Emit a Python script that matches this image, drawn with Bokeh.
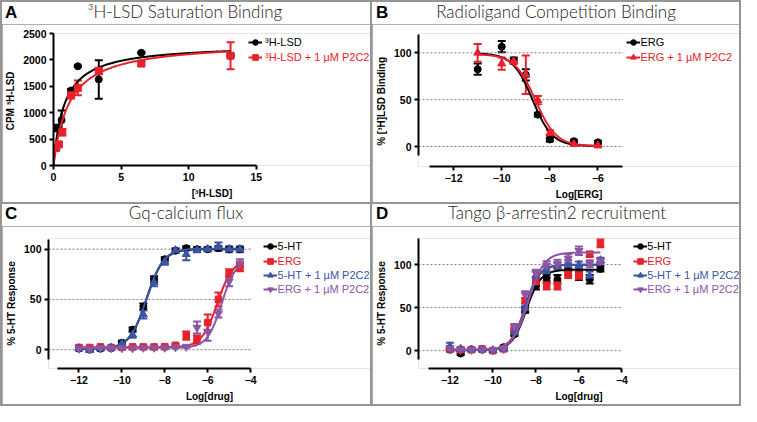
import numpy as np
from bokeh.plotting import figure
from bokeh.models import (ColumnDataSource, Whisker, TeeHead, Legend, LegendItem,
                          FixedTicker, Range1d, Div)
from bokeh.layouts import row, column
from bokeh.embed import file_html
from bokeh.resources import INLINE

# ---------------- data ----------------
# Panel A : 3H-LSD saturation binding (x = [3H-LSD], y = CPM)
A_black_x = [0.2, 0.6, 1.3, 1.8, 3.35, 6.5, 13.1]
A_black_y = [710, 860, 1420, 1880, 1630, 2135, 2080]
A_black_err = [60, 180, 30, 15, 365, 15, 20]
A_red_x = [0.2, 0.4, 0.65, 1.3, 1.8, 3.35, 6.5, 13.1]
A_red_y = [330, 400, 630, 1330, 1470, 1790, 1930, 2080]
A_red_err = [30, 30, 60, 60, 140, 60, 30, 255]
A_fit_black = [2300, 0.8]    # Bmax, Kd
A_fit_red = [2350, 1.15]
A_xticks = [0, 5, 10, 15]
A_yticks = [0, 500, 1000, 1500, 2000, 2500]

# Panel B : competition binding (log[ERG])
B_x = [-11, -10, -9.5, -9, -8.5, -8, -7, -6]
B_erg_y = [82.5, 106.5, 92, 76.5, 34, 7.5, 5.7, 4.5]
B_erg_err = [6, 6, 3, 6, 2, 2, 1.5, 1.5]
B_ergp_y = [100, 88.5, 91, 76.5, 49.5, 14.5, 2.5, 1]
B_ergp_err = [9.5, 6.5, 3, 20.5, 4.5, 3, 1, 1]
B_fit_erg = [0.5, 99.5, -8.72, -1.05]     # bottom, top, logIC50, hill
B_fit_ergp = [0.5, 98.5, -8.6, -1.0]
B_xticks = [-12, -10, -8, -6]
B_yticks = [0, 50, 100]

# Panel C : Gq-calcium flux (log[drug])
C_x = [-12, -11.5, -11, -10.5, -10, -9.5, -9, -8.5, -8, -7.5, -7, -6.5, -6, -5.5, -5, -4.5]
C_ht_y = [1, 0, 1, 1.5, 7, 20, 43, 70, 90, 98.5, 101, 100, 100, 101, 100, 100]
C_ht_err = [1.5, 1.5, 1.5, 1.5, 2, 2, 3, 3, 2, 2, 2, 2, 2, 2, 2, 2]
C_erg_y = [2.2, 2.2, 2.8, 2.2, 2.5, 2.8, 2.8, 2.8, 3, 4.4, 14, 10, 27, 50, 76, 82]
C_erg_err = [1, 1, 1, 1, 1, 1, 1, 1, 1, 1.5, 4, 4, 8, 7, 4, 4]
C_htp_y = [1.5, -0.5, 1.5, 2, 6, 15, 35, 67, 87.5, 99, 95, 99, 100, 102.5, 100, 100]
C_htp_err = [2, 1.5, 2, 1.5, 2, 3, 4, 4, 3, 2, 6, 2, 2, 4, 3, 3]
C_ergp_y = [1, 1, 1.5, 1.5, 1.5, 1.5, 2, 2, 2, 2.5, 3, 22, 18, 36, 68, 86]
C_ergp_err = [1, 1, 1, 1, 1, 1, 1, 1, 1, 1, 1, 6, 9, 4, 5, 4]
C_fit_ht = [1, 100, -8.85, 1.1]
C_fit_erg = [2.5, 90, -5.55, 1.2]
C_fit_htp = [1, 100.5, -8.85, 1.1]
C_fit_ergp = [2, 90, -5.35, 1.3]
C_xticks = [-12, -10, -8, -6, -4]
C_yticks = [0, 50, 100]

# Panel D : Tango beta-arrestin2 recruitment (log[drug])
D_x = [-12, -11.5, -11, -10.5, -10, -9.5, -9, -8.5, -8, -7.5, -7, -6.5, -6, -5.5, -5]
D_ht_y = [1, -3.5, 1.5, 1, 0, 4, 19, 47, 75, 84, 83, 92, 87, 83, 95]
D_ht_err = [1.5, 1.5, 1.5, 1, 1, 2, 2, 3, 4, 5, 5, 4, 5, 5, 3]
D_erg_y = [2, 1, 1, 2, 0, 2, 25, 58, 80, 76, 76, 88.5, 87, 112, 125]
D_erg_err = [2, 1, 1, 1, 1, 1, 3, 3, 4, 5, 5, 4, 4, 3, 5]
D_htp_y = [5, 2, 1, 1, 0.5, 2, 21, 49, 87, 92, 98.5, 101, 99.5, 87, 105]
D_htp_err = [4, 2, 1, 1, 1, 1, 3, 3, 5, 5, 4, 4, 4, 5, 3]
D_ergp_y = [2, 1, 1, 1.5, 0.5, 2, 28, 65, 90, 99, 100.5, 107, 116, 101, 104]
D_ergp_err = [3, 1, 1, 1, 1, 1, 3, 4, 4, 5, 5, 5, 5, 4, 3]
D_fit_ht = [0.5, 94, -8.45, 1.3]
D_fit_erg = [1, 100, -8.5, 1.3]
D_fit_htp = [1, 99.5, -8.5, 1.4]
D_fit_ergp = [1, 114, -8.35, 1.2]
D_xticks = [-12, -10, -8, -6, -4]
D_yticks = [0, 50, 100]

# ---------------- style ----------------
BLACK = "#000000"
RED = "#e8212b"
BLUE = "#3b55a5"
PURPLE = "#8d55a6"
SANS = "Liberation Sans"
TITLE_FONT = "Lato"
PANEL_H = 200
HEAD_H = 22


def sat_curve(params, x0, x1):
    bmax, kd = params
    xs = np.linspace(x0, x1, 200)
    return xs, bmax * xs / (kd + xs)


def sig_curve(params, x0, x1):
    bottom, top, logec, hill = params
    xs = np.linspace(x0, x1, 200)
    return xs, bottom + (top - bottom) / (1 + 10 ** ((logec - xs) * hill))


def make_fig(W, fl, fr, ft, fb, xl, xr, yr, xticks, yticks, xlabel, ylabel,
             xbounds=None, ybounds=None, grid=True):
    """fl/fr: pixel x of frame-left and of the x-axis end; ft/fb: frame top/bottom (panel px).
    xl/xr: data x at fl and fr. The frame is extended to the right edge to hold the legend."""
    scale = (fr - fl) / (xr - xl)
    x_end = xr + (W - fr) / scale
    p = figure(width=W, height=PANEL_H - HEAD_H, x_range=Range1d(xl, x_end), y_range=Range1d(*yr),
               output_backend="svg", toolbar_location=None, margin=0,
               min_border_left=fl, min_border_right=0,
               min_border_top=ft - HEAD_H, min_border_bottom=PANEL_H - fb)
    p.outline_line_color = None
    p.background_fill_color = "white"
    p.border_fill_color = "white"
    p.xaxis.ticker = FixedTicker(ticks=xticks)
    p.yaxis.ticker = FixedTicker(ticks=yticks)
    p.xaxis.bounds = xbounds if xbounds else (xl, xr)
    p.yaxis.bounds = ybounds if ybounds else yr
    for ax in (p.xaxis[0], p.yaxis[0]):
        ax.axis_line_width = 2
        ax.axis_line_color = "black"
        ax.major_tick_line_width = 2
        ax.major_tick_line_color = "black"
        ax.major_tick_out = 4
        ax.major_tick_in = 0
        ax.minor_tick_out = 0
        ax.minor_tick_in = 0
        ax.major_label_text_font = SANS
        ax.major_label_text_font_style = "bold"
        ax.major_label_text_font_size = "10.5px"
        ax.major_label_text_color = "black"
        ax.major_label_standoff = 3
        ax.axis_label_text_font = SANS
        ax.axis_label_text_font_style = "bold"
        ax.axis_label_text_font_size = "10px"
        ax.axis_label_text_color = "black"
        ax.axis_label_standoff = 4
    p.xaxis.axis_label = xlabel
    p.yaxis.axis_label = ylabel
    p.xgrid.visible = False
    p.ygrid.visible = False
    if grid:
        n = len(yticks)
        p.segment(x0=[xl] * n, y0=yticks, x1=[xr] * n, y1=yticks,
                  line_color="#7a7a7a", line_dash="2 2", line_width=1)
    return p


def add_series(p, x, y, err, fit, color, marker, size):
    fx, fy = fit
    line_r = p.line(fx, fy, line_color=color, line_width=2)
    src = ColumnDataSource(dict(x=x, y=y,
                                upper=[a + b for a, b in zip(y, err)],
                                lower=[a - b for a, b in zip(y, err)]))
    wh = Whisker(source=src, base="x", upper="upper", lower="lower", dimension="height",
                 line_color=color, line_width=2, level="underlay",
                 upper_head=TeeHead(size=8, line_color=color, line_width=2),
                 lower_head=TeeHead(size=8, line_color=color, line_width=2))
    p.add_layout(wh)
    sc = p.scatter("x", "y", source=src, marker=marker, size=size,
                   fill_color=color, line_color=color)
    return line_r, sc


def add_legend(p, text, renderers, color, vx, vy, standoff):
    leg = Legend(items=[LegendItem(label=text, renderers=list(renderers))],
                 location=(vx, vy), border_line_color=None, background_fill_alpha=0,
                 padding=0, margin=0, spacing=0, glyph_width=14, glyph_height=16,
                 label_height=16, label_standoff=standoff,
                 label_text_font=SANS, label_text_font_size="11px",
                 label_text_color=color)
    p.add_layout(leg)


def header(W, letter, title, lx, lcy, tcx, tcy):
    html = (f'<div style="position:relative;width:{W}px;height:{HEAD_H}px;overflow:visible;">'
            f'<span style="position:absolute;left:{lx}px;top:{lcy - 10}px;line-height:20px;'
            f"font-family:'{SANS}';font-weight:bold;font-size:17px;color:#000;\">{letter}</span>"
            f'<span style="position:absolute;left:{tcx}px;top:{tcy - 10}px;line-height:20px;'
            f'transform:translateX(-50%);white-space:nowrap;font-family:{TITLE_FONT};'
            f'font-weight:300;font-size:17px;color:#1a1a1a;">{title}</span></div>')
    return Div(text=html, width=W, height=HEAD_H, margin=0,
               styles={"background-color": "white"})


# ---------------- Panel A ----------------
pA = make_fig(368, 49, 253, 31, 163, 0, 15, (0, 2500), A_xticks, A_yticks,
              "[³H-LSD]", "CPM  ³H-LSD", grid=False)
rA1 = add_series(pA, A_black_x, A_black_y, A_black_err, sat_curve(A_fit_black, 0, 13.1),
                 BLACK, "circle", 7)
rA2 = add_series(pA, A_red_x, A_red_y, A_red_err, sat_curve(A_fit_red, 0, 13.1),
                 RED, "square", 7)
add_legend(pA, "³H-LSD", rA1, BLACK, 195, 115.4, 3)
add_legend(pA, "³H-LSD + 1 µM P2C2", rA2, RED, 195, 100, 3)
hA = header(368, "A", "³H-LSD Saturation Binding", 3, 11, 183, 10)

# ---------------- Panel B ----------------
pB = make_fig(367, 44, 250, 31, 165, -13.46, -4.95, (-21.3, 120.6), B_xticks, B_yticks,
              "Log[ERG]", "% [³H]LSD  Binding", xbounds=(-13, -5), ybounds=(-10, 120))
rB1 = add_series(pB, B_x, B_erg_y, B_erg_err, sig_curve(B_fit_erg, -11, -6), BLACK, "circle", 7)
rB2 = add_series(pB, B_x, B_ergp_y, B_ergp_err, sig_curve(B_fit_ergp, -11, -6), RED, "triangle", 8)
add_legend(pB, "ERG", rB1, BLACK, 208.4, 116.4, 0)
add_legend(pB, "ERG + 1 µM P2C2", rB2, RED, 208.4, 101, 0)
hB = header(367, "B", "Radioligand Competition Binding", 4, 11, 184, 10)

# ---------------- Panel C ----------------
pC = make_fig(368, 43, 247, 34, 166, -13.42, -4.0, (-18.7, 110.6), C_xticks, C_yticks,
              "Log[drug]", "% 5-HT Response", xbounds=(-13, -4), ybounds=(-10, 110))
rC1 = add_series(pC, C_x, C_ht_y, C_ht_err, sig_curve(C_fit_ht, -12, -4.5), BLACK, "circle", 7)
rC2 = add_series(pC, C_x, C_erg_y, C_erg_err, sig_curve(C_fit_erg, -12, -4.5), RED, "square", 6.5)
rC3 = add_series(pC, C_x, C_htp_y, C_htp_err, sig_curve(C_fit_htp, -12, -4.5), BLUE, "triangle", 8)
rC4 = add_series(pC, C_x, C_ergp_y, C_ergp_err, sig_curve(C_fit_ergp, -12, -4.5), PURPLE, "inverted_triangle", 8)
for i, (t, r, c) in enumerate([("5-HT", rC1, BLACK), ("ERG", rC2, RED),
                               ("5-HT + 1 µM P2C2", rC3, BLUE), ("ERG + 1 µM P2C2", rC4, PURPLE)]):
    add_legend(pC, t, r, c, 214.6, 113.8 - 14.4 * i, 1)
hC = header(368, "C", "Gq-calcium flux", 3, 10, 184, 9)

# ---------------- Panel D ----------------
pD = make_fig(367, 42, 248, 34, 166, -13.46, -4.0, (-20.8, 130.3), D_xticks, D_yticks,
              "Log[drug]", "% 5-HT Response", xbounds=(-13, -4), ybounds=(-10, 130))
rD1 = add_series(pD, D_x, D_ht_y, D_ht_err, sig_curve(D_fit_ht, -12, -5), BLACK, "circle", 7)
rD2 = add_series(pD, D_x, D_erg_y, D_erg_err, sig_curve(D_fit_erg, -12, -5), RED, "square", 6.5)
rD3 = add_series(pD, D_x, D_htp_y, D_htp_err, sig_curve(D_fit_htp, -12, -5), BLUE, "triangle", 8)
rD4 = add_series(pD, D_x, D_ergp_y, D_ergp_err, sig_curve(D_fit_ergp, -12, -5), PURPLE, "inverted_triangle", 8)
for i, (t, r, c) in enumerate([("5-HT", rD1, BLACK), ("ERG", rD2, RED),
                               ("5-HT + 1 µM P2C2", rD3, BLUE), ("ERG + 1 µM P2C2", rD4, PURPLE)]):
    add_legend(pD, t, r, c, 215.3, 113.8 - 14.4 * i, 0)
hD = header(367, "D", "Tango β-arrestin2 recruitment", 4, 10, 185, 9)

layout = column(
    row(column(hA, pA, spacing=0), column(hB, pB, spacing=0), spacing=2),
    row(column(hC, pC, spacing=0), column(hD, pD, spacing=0), spacing=2),
    spacing=2, styles={"background-color": "#959595", "padding": "2px"})

open("out.html", "w").write(file_html(layout, INLINE))
